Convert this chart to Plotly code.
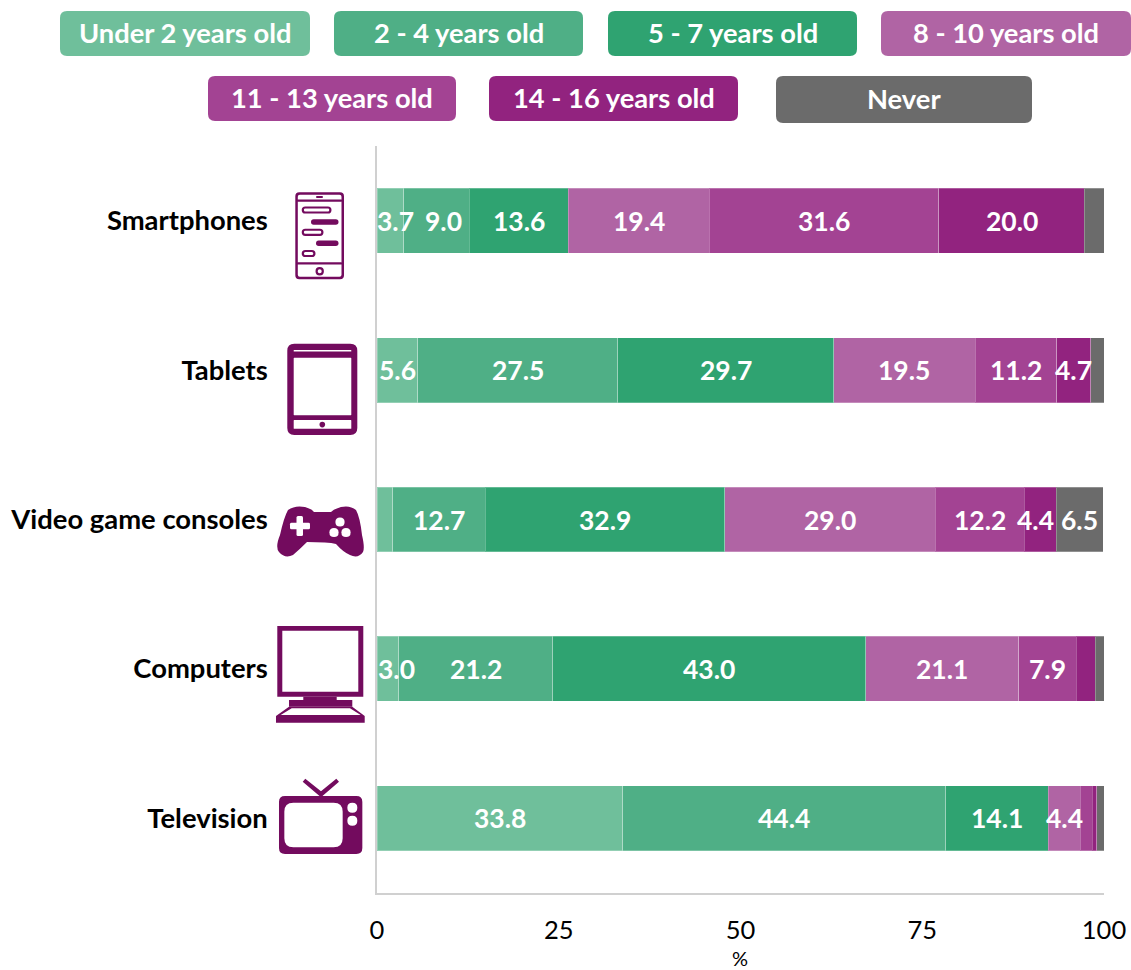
import re
import plotly.graph_objects as go

W, H = 1131, 970

devices = ["Smartphones", "Tablets", "Video game consoles", "Computers", "Television"]
age_groups = ["Under 2 years old", "2 - 4 years old", "5 - 7 years old", "8 - 10 years old",
              "11 - 13 years old", "14 - 16 years old", "Never"]
under_2 = [3.7, 5.6, 2.2, 3.0, 33.8]
age_2_4 = [9.0, 27.5, 12.7, 21.2, 44.4]
age_5_7 = [13.6, 29.7, 32.9, 43.0, 14.1]
age_8_10 = [19.4, 19.5, 29.0, 21.1, 4.4]
age_11_13 = [31.6, 11.2, 12.2, 7.9, 1.7]
age_14_16 = [20.0, 4.7, 4.4, 2.6, 0.6]
never = [2.7, 1.9, 6.5, 1.2, 1.0]
series = [under_2, age_2_4, age_5_7, age_8_10, age_11_13, age_14_16, never]
colors = ["#6FBF9B", "#4FAF86", "#2FA371", "#B064A4", "#A34393", "#92237F", "#6B6B6B"]
x_ticks = [0, 25, 50, 75, 100]
x_title = "%"
ICON = "#730B5E"
FONT = "Lato"
# labels the reference nudges sideways inside narrow segments: (series, device) -> pixels
label_nudge = {(0, 0): 5, (1, 0): 7, (0, 3): 9, (5, 2): -5}


def X(px):
    return px / W


def Y(py):
    return 1 - py / H


def P(d):
    """Pixel path -> paper path."""
    toks = re.findall(r"[MLCQZ]|-?\d+\.?\d*", d)
    out, isx = [], True
    for t in toks:
        if t in "MLCQZ":
            out.append(t)
            isx = True
        else:
            out.append(f"{X(float(t)):.5f}" if isx else f"{Y(float(t)):.5f}")
            isx = not isx
    return " ".join(out)


def rr(x0, y0, x1, y1, r):
    return (f"M {x0+r} {y0} L {x1-r} {y0} Q {x1} {y0} {x1} {y0+r} L {x1} {y1-r} Q {x1} {y1} {x1-r} {y1} "
            f"L {x0+r} {y1} Q {x0} {y1} {x0} {y1-r} L {x0} {y0+r} Q {x0} {y0} {x0+r} {y0} Z ")


def circ(cx, cy, r):
    return rr(cx - r, cy - r, cx + r, cy + r, r)


shapes = []


def add(d, fill=ICON):
    shapes.append(dict(type="path", path=P(d), xref="paper", yref="paper",
                       fillcolor=fill, line=dict(width=0), layer="above"))


def zx(z):
    return 270 + z / 3


def zy(z, base=490):
    return base + z / 3


def poly(pts, base=490):
    return "M " + " L ".join(f"{zx(a):.1f} {zy(b, base):.1f}" for a, b in pts) + " Z "


# legend boxes
legend_boxes = [(60, 11, 310, 56), (334, 11, 583, 56), (608, 11, 857, 56), (881, 11, 1131, 56),
                (208, 76, 456, 121), (489, 76, 738, 121), (776, 76, 1032, 123)]
annotations = []
for name, col, (x0, y0, x1, y1) in zip(age_groups, colors, legend_boxes):
    add(rr(x0, y0, x1, y1, 7), col)
    annotations.append(dict(text=f"<b>{name}</b>", x=X((x0 + x1) / 2), y=Y((y0 + y1) / 2 - 1.2), xref="paper", yref="paper",
                            showarrow=False, xanchor="center", yanchor="middle",
                            font=dict(family=FONT, size=27.3, color="white")))

# smartphone
add(rr(295.3, 192.3, 344, 279.3, 4) + rr(297.8, 194.8, 341.5, 276.8, 2))
add(rr(297, 199.6, 342, 201.8, 0.5))
add(rr(297, 262.2, 342, 264.4, 0.5))
add(rr(316, 196, 323, 198, 1))
add(circ(319.7, 271.3, 4.2) + circ(319.7, 271.3, 2))
for (a, b, yc) in [(301.7, 331.5, 210), (301.7, 323.5, 232.3), (301.7, 315.5, 253.5)]:
    add(rr(a, yc - 3.6, b, yc + 3.6, 3.6) + rr(a + 2.2, yc - 1.5, b - 2.2, yc + 1.5, 1.5))
for (a, b, yc) in [(311, 338.5, 222), (316, 338.5, 243.3)]:
    add(rr(a, yc - 2.7, b, yc + 2.7, 2.7))

# tablet
add(rr(287.3, 343.7, 357.3, 435, 7) + rr(293.7, 357.7, 351.3, 415.3, 0.5) + rr(293.7, 420, 351.3, 428.7, 0.5)
    + rr(293.7, 350, 351.3, 351.5, 0.3))
add(circ(322.3, 424.6, 2.8))

# game controller
add("M 288 510 Q 295 505 305 507 Q 312 509 314 512 L 331 512 Q 334 509 341 507 Q 350 505 356 510 "
    "Q 360 517 362 535 Q 365 548 363 552 Q 358 559 350 555 Q 343 552 336 544 Q 328 542 307 542 "
    "Q 300 549 293 555 Q 285 559 279 552 Q 275 547 280 535 Q 284 517 288 510 Z")
add(rr(290, 522.7, 310, 529.3, 1.5), "white")
add(rr(296.5, 516, 303, 536, 1.5), "white")
for cx, cy in [(340, 522), (334, 532.5), (346, 532.5)]:
    add(circ(cx, cy, 4.6), "white")

# computer
add(poly([(22, 408), (280, 408), (280, 620), (22, 620)]) + poly([(37, 422), (265, 422), (265, 605), (37, 605)]))
add(poly([(100, 620), (200, 620), (200, 630), (247, 630), (247, 650), (57, 650), (57, 630), (100, 630)]))
add(poly([(57, 650), (247, 650), (284, 678), (284, 698), (18, 698), (18, 678)])
    + poly([(65, 655), (240, 655), (272, 675), (32, 675)]))

# television
add(rr(zx(27), zy(918), zx(277), zy(1092), 6) + rr(zx(43), zy(938), zx(218), zy(1072), 9))
add(poly([(98, 875), (106, 866), (153, 904), (199, 866), (207, 875), (153, 922)]))
add(circ(zx(247), zy(953), 5) + circ(zx(247), zy(992), 5), "white")

# value labels sit above every bar segment, as in the reference
for di, device in enumerate(devices):
    start = 0.0
    for si, vals in enumerate(series):
        v = vals[di]
        if v >= 3:
            annotations.append(dict(text=f"<b>{v:.1f}</b>", x=start + v / 2, y=device, xref="x", yref="y",
                                    xshift=label_nudge.get((si, di), 0), showarrow=False,
                                    xanchor="center", yanchor="middle",
                                    font=dict(family=FONT, size=26.5, color="white")))
        start += v

annotations.append(dict(text=x_title, x=X(740), y=Y(958), xref="paper", yref="paper", showarrow=False,
                        xanchor="center", yanchor="middle", borderpad=0, borderwidth=0,
                        font=dict(family=FONT, size=20, color="black")))

fig = go.Figure()
for name, col, vals in zip(age_groups, colors, series):
    fig.add_bar(
        name=name, y=devices, x=vals, orientation="h",
        marker=dict(color=col, line=dict(color="rgba(255,255,255,0.25)", width=1)),
        hoverinfo="x+y+name",
    )

fig.update_layout(
    barmode="stack", bargap=0.565, width=W, height=H, autosize=False,
    margin=dict(l=0, r=0, t=0, b=0, autoexpand=False), paper_bgcolor="white", plot_bgcolor="white",
    showlegend=False, shapes=shapes, annotations=annotations,
    font=dict(family=FONT, color="black"),
    xaxis=dict(domain=[X(377), X(1104)], range=[0, 100], tickvals=x_ticks, showgrid=False, automargin=False,
               zeroline=False, showline=True, linecolor="#D0D0D0", linewidth=1.5, ticks="outside", ticklen=14,
               tickcolor="rgba(0,0,0,0)",
               tickfont=dict(family=FONT, size=25.5, color="black")),
    yaxis=dict(domain=[Y(893), Y(146)], autorange="reversed", showgrid=False, zeroline=False, automargin=False,
               showline=True, linecolor="#D0D0D0", linewidth=1.5, ticks="outside", ticklen=102,
               tickcolor="rgba(0,0,0,0)",
               tickfont=dict(family=FONT, size=27.4, color="black", weight="bold")),
)
fig.write_html("out.html", config=dict(displayModeBar=False),
               post_script="document.body.style.margin='0';document.body.style.overflow='hidden';")
